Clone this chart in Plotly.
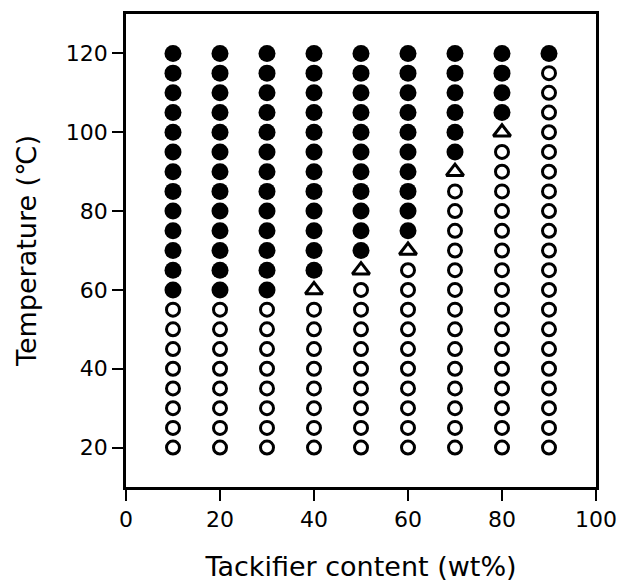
import plotly.graph_objects as go

# Measured grid: tackifier content (wt%) and test temperatures (°C)
content = [10, 20, 30, 40, 50, 60, 70, 80, 90]
temperatures = [20, 25, 30, 35, 40, 45, 50, 55, 60, 65, 70,
                75, 80, 85, 90, 95, 100, 105, 110, 115, 120]
# Lowest temperature with the filled state for each composition
filled_from = [60, 60, 60, 65, 70, 75, 95, 105, 120]
# Temperature showing the intermediate (triangle) state, if any
transition_at = [None, None, None, 60, 65, 70, 90, 100, None]

x_tick_vals = [0, 20, 40, 60, 80, 100]
y_tick_vals = [20, 40, 60, 80, 100, 120]

filled_x, filled_y = [], []
open_x, open_y = [], []
tri_x, tri_y = [], []
for c, f, t in zip(content, filled_from, transition_at):
    for T in temperatures:
        if T >= f:
            filled_x.append(c); filled_y.append(T)
        elif t is not None and T == t:
            tri_x.append(c); tri_y.append(T)
        else:
            open_x.append(c); open_y.append(T)

fig = go.Figure()
fig.add_trace(go.Scatter(
    x=open_x, y=open_y, mode="markers",
    marker=dict(symbol="circle-open", size=13, color="black",
                line=dict(width=3, color="black")),
    showlegend=False))
fig.add_trace(go.Scatter(
    x=tri_x, y=tri_y, mode="markers",
    marker=dict(symbol="triangle-up-open", size=15, color="black",
                line=dict(width=3, color="black")),
    showlegend=False))
fig.add_trace(go.Scatter(
    x=filled_x, y=filled_y, mode="markers",
    marker=dict(symbol="circle", size=17, color="black",
                line=dict(width=0)),
    showlegend=False))

font_family = "DejaVu Sans, sans-serif"

fig.update_layout(
    width=620, height=584,
    margin=dict(l=126, r=24, t=14, b=97),
    paper_bgcolor="white", plot_bgcolor="white",
    font=dict(family=font_family, color="black", size=22),
    xaxis=dict(
        range=[0, 100], tickvals=x_tick_vals, automargin=False,
        ticks="outside", ticklen=11, tickwidth=2, tickcolor="black",
        showline=True, linewidth=2.5, linecolor="black", mirror=True,
        showgrid=False, zeroline=False,
        tickfont=dict(size=22, family=font_family),
        title=dict(text="Tackifier content (wt%)", standoff=26,
                   font=dict(size=27, family=font_family)),
    ),
    yaxis=dict(
        range=[10, 130], tickvals=y_tick_vals, automargin=False,
        ticks="outside", ticklen=11, tickwidth=2, tickcolor="black",
        showline=True, linewidth=2.5, linecolor="black", mirror=True,
        showgrid=False, zeroline=False,
        tickfont=dict(size=22, family=font_family),
        title=dict(text="Temperature (\u2103)", standoff=22,
                   font=dict(size=27, family=font_family)),
    ),
)

fig.write_html("out.html")
